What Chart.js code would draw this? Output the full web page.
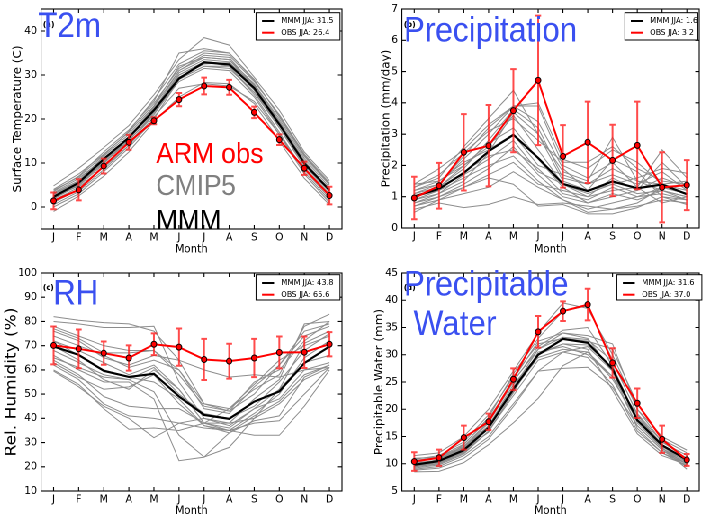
<!DOCTYPE html>
<html lang="en">
<head>
    <meta charset="UTF-8">
    <title>ARM obs vs CMIP5 annual cycle</title>
    <script src="https://cdn.jsdelivr.net/npm/chart.js@4/dist/chart.umd.min.js"></script>
</head>
<style>
    body { margin: 0; background: #fff; overflow: hidden; }
    #fig { position: absolute; left: 0; top: 0; width: 782px; height: 517px; transform: scale(0.9, 1); transform-origin: 0 0; }
    #fig canvas { position: absolute; }
</style>
<body>
<div id="fig">
    <canvas id="pa" width="391" height="258" style="left:0;top:0"></canvas>
    <canvas id="pb" width="391" height="258" style="left:391px;top:0"></canvas>
    <canvas id="pc" width="391" height="259" style="left:0;top:258px"></canvas>
    <canvas id="pd" width="391" height="259" style="left:391px;top:258px"></canvas>
</div>
<script>
    const months = ['J', 'F', 'M', 'A', 'M', 'J', 'J', 'A', 'S', 'O', 'N', 'D'];

    // (a) 2 m temperature
    const t2mTicks = [0, 10, 20, 30, 40];
    const t2mObs = [1.4, 3.9, 9.3, 14.7, 19.6, 24.4, 27.5, 27.2, 21.5, 15.3, 8.8, 2.6];
    const t2mErr = [1.9, 2.4, 1.7, 1.7, 0.8, 1.5, 1.9, 1.7, 1.3, 1.2, 1.5, 2.0];
    const t2mMmm = [2.3, 5.5, 10.9, 15.8, 22.0, 29.2, 32.9, 32.4, 27.0, 18.8, 9.9, 3.8];
    const t2mModels = [
        [4.8, 8.8, 13.5, 18.5, 25.5, 33.5, 38.5, 36.8, 29.5, 22.0, 12.5, 6.0],
        [3.5, 7.0, 12.5, 17.5, 24.0, 35.0, 36.0, 35.0, 29.0, 20.5, 11.5, 5.0],
        [2.0, 5.0, 10.5, 15.5, 22.0, 31.0, 34.5, 34.0, 27.5, 19.0, 10.0, 3.5],
        [1.0, 4.0, 9.5, 14.5, 21.0, 30.0, 33.0, 32.5, 26.5, 18.0, 9.0, 2.5],
        [0.0, 3.0, 8.0, 13.5, 20.0, 29.0, 32.0, 32.0, 25.5, 17.0, 8.0, 1.5],
        [-1.0, 2.5, 7.0, 12.5, 19.5, 25.0, 28.3, 28.0, 23.5, 15.0, 6.5, 0.5],
        [3.0, 6.0, 11.5, 16.5, 23.0, 32.0, 34.0, 33.5, 28.0, 20.0, 11.0, 4.5],
        [2.5, 5.5, 10.0, 15.0, 21.5, 30.5, 33.5, 33.0, 27.0, 19.5, 10.5, 4.0],
        [1.5, 4.5, 9.0, 14.0, 20.5, 27.0, 28.0, 27.5, 24.0, 16.5, 8.5, 2.0],
        [4.0, 7.5, 12.0, 17.0, 23.5, 31.5, 35.0, 34.5, 28.5, 21.0, 12.0, 5.5],
        [2.8, 5.8, 11.0, 16.0, 22.5, 29.5, 32.5, 32.8, 27.8, 19.5, 10.2, 4.0],
        [0.5, 3.5, 8.5, 14.0, 21.5, 28.5, 31.5, 31.0, 25.0, 16.5, 7.5, 1.0],
        [3.2, 6.5, 11.0, 15.5, 22.0, 30.0, 33.0, 32.0, 26.0, 18.5, 10.0, 4.2],
        [1.8, 5.0, 10.2, 15.2, 21.0, 29.0, 32.0, 31.5, 26.0, 18.0, 9.5, 3.0],
        [2.2, 4.8, 9.8, 15.8, 22.8, 31.0, 34.0, 33.5, 27.2, 19.2, 10.5, 3.8],
        [3.8, 6.8, 11.8, 17.2, 24.5, 32.5, 35.5, 35.0, 28.8, 20.8, 11.8, 5.2]
    ];

    // (b) precipitation
    const prTicks = [0, 1, 2, 3, 4, 5, 6, 7];
    const prObs = [0.96, 1.35, 2.42, 2.63, 3.75, 4.72, 2.29, 2.74, 2.16, 2.64, 1.30, 1.37];
    const prErr = [0.68, 0.73, 1.22, 1.3, 1.33, 2.07, 1.0, 1.3, 1.14, 1.4, 1.12, 0.8];
    const prMmm = [1.01, 1.25, 1.76, 2.45, 2.98, 2.24, 1.41, 1.18, 1.49, 1.27, 1.39, 1.08];
    const prModels = [
        [1.3, 1.6, 2.6, 3.5, 4.4, 3.0, 1.8, 1.5, 2.9, 1.5, 1.2, 1.0],
        [1.4, 1.9, 2.5, 3.3, 3.9, 4.0, 2.2, 1.9, 2.5, 2.1, 1.4, 1.2],
        [1.1, 1.4, 2.2, 3.0, 3.9, 3.9, 2.0, 1.6, 2.1, 1.3, 2.5, 1.6],
        [0.9, 1.1, 1.5, 2.4, 3.7, 3.0, 1.5, 1.2, 2.2, 1.8, 1.0, 0.9],
        [1.2, 1.5, 2.0, 2.6, 3.6, 2.5, 1.4, 1.0, 1.6, 1.2, 2.1, 1.3],
        [0.8, 1.0, 1.4, 1.9, 2.6, 1.7, 1.0, 0.8, 1.1, 0.9, 1.2, 1.0],
        [0.6, 0.8, 0.65, 0.75, 1.0, 0.75, 0.8, 0.7, 0.6, 0.7, 0.9, 0.8],
        [0.5, 0.9, 1.3, 1.6, 1.4, 0.7, 0.75, 0.45, 0.45, 0.65, 1.0, 0.75],
        [1.0, 1.2, 1.8, 2.3, 2.5, 1.9, 1.1, 0.9, 1.3, 1.0, 1.3, 1.1],
        [1.3, 1.7, 2.4, 3.1, 3.5, 2.8, 2.1, 2.1, 2.6, 1.9, 1.5, 1.4],
        [0.7, 0.9, 1.1, 1.3, 1.8, 1.3, 0.9, 0.6, 0.8, 1.0, 1.1, 0.9],
        [1.1, 1.3, 1.9, 2.8, 3.8, 3.2, 1.6, 1.4, 1.7, 1.4, 1.8, 1.2],
        [1.2, 1.4, 2.3, 3.2, 3.9, 3.4, 1.9, 1.2, 1.4, 1.6, 1.9, 1.75],
        [0.9, 1.2, 1.6, 2.0, 2.3, 1.5, 0.9, 0.5, 0.6, 0.8, 1.3, 1.1],
        [0.7, 1.0, 1.3, 1.7, 2.1, 1.4, 1.2, 1.0, 1.2, 1.3, 0.8, 1.0],
        [1.0, 1.3, 2.0, 2.7, 3.2, 2.2, 1.3, 0.8, 1.0, 1.2, 1.6, 1.3],
        [1.4, 1.5, 2.1, 2.5, 3.0, 2.0, 1.7, 1.4, 1.9, 1.5, 1.4, 1.5],
        [0.8, 1.1, 1.7, 2.2, 2.8, 1.8, 1.4, 1.1, 1.4, 1.1, 1.2, 0.9]
    ];

    // (c) relative humidity
    const rhTicks = [10, 20, 30, 40, 50, 60, 70, 80, 90, 100];
    const rhObs = [70.1, 68.7, 66.9, 64.9, 70.6, 69.4, 64.3, 63.6, 64.9, 67.2, 67.3, 70.6];
    const rhErr = [7.8, 8.0, 4.8, 5.2, 4.5, 7.7, 8.5, 7.2, 7.9, 6.6, 6.5, 5.0];
    const rhMmm = [69.7, 66.2, 59.6, 57.1, 58.4, 49.0, 41.4, 39.8, 46.9, 51.1, 62.8, 69.7];
    const rhModels = [
        [82, 80.5, 79.5, 79, 76, 64, 46, 44, 52, 58, 78, 83],
        [80, 79, 77.5, 77.5, 78, 55, 40, 38, 48, 56, 79, 80],
        [78, 74, 70, 68, 68, 60, 44, 42, 53, 62, 76, 79],
        [76, 72, 65, 62, 66, 64, 60, 57, 58, 57, 60, 61],
        [74, 70, 66, 61, 64, 60, 46, 43, 50, 62, 74, 78],
        [72, 68, 63, 58, 62, 52, 38, 36, 44, 52, 71, 76],
        [70, 64, 56, 52, 60, 52, 38, 44, 54, 64, 70, 74],
        [68, 63, 58, 56, 51, 33, 24, 28, 40, 52, 63, 66],
        [66, 60, 55, 55, 48, 22.5, 24, 34, 39, 41, 57, 62],
        [64, 58, 49, 45, 44, 44, 38, 35, 33, 33, 45, 60],
        [62, 56, 46, 41, 40, 38, 36, 35, 38, 39, 50, 61],
        [60, 54, 44, 35.5, 36, 35, 38, 38, 40, 46, 56, 61],
        [59.5, 53, 45, 40, 32, 38, 40, 37, 44, 48, 60, 63],
        [72, 66, 60, 57, 55, 48, 37, 35, 42, 50, 65, 72],
        [65, 61, 57, 56, 61, 50, 42, 40, 45, 55, 68, 75],
        [77, 73, 67, 67, 68, 58, 45, 43, 55, 60, 72, 80],
        [63, 57, 52, 53, 58, 46, 37, 34, 41, 47, 58, 62]
    ];

    // (d) precipitable water
    const pwTicks = [5, 10, 15, 20, 25, 30, 35, 40, 45];
    const pwObs = [10.4, 11.1, 14.8, 17.7, 25.5, 34.2, 38.0, 39.2, 28.5, 21.1, 14.5, 10.7];
    const pwErr = [1.7, 1.5, 2.2, 1.5, 2.0, 2.9, 1.8, 2.9, 2.7, 2.7, 2.5, 1.1];
    const pwMmm = [9.8, 10.5, 12.5, 16.6, 23.7, 30.0, 32.9, 32.2, 27.4, 18.0, 13.4, 10.7];
    const pwModels = [
        [11.5, 12.0, 15.0, 20.0, 27.0, 34.0, 39.5, 38.5, 30.0, 20.0, 14.0, 11.0],
        [10.0, 10.5, 13.5, 18.5, 26.5, 33.0, 38.0, 39.0, 29.0, 19.0, 13.5, 10.5],
        [9.0, 9.5, 11.5, 15.0, 21.0, 27.0, 27.5, 27.7, 24.0, 17.0, 12.5, 9.5],
        [8.5, 8.6, 10.2, 13.5, 17.5, 22.0, 28.0, 30.5, 26.0, 19.0, 13.0, 9.0],
        [10.5, 11.0, 13.0, 17.0, 24.0, 31.0, 34.0, 33.0, 27.0, 18.5, 13.5, 10.8],
        [9.5, 10.0, 12.0, 16.0, 23.0, 30.5, 31.5, 30.0, 26.0, 17.0, 12.5, 10.0],
        [9.8, 10.8, 13.0, 17.5, 25.0, 31.5, 34.5, 35.0, 28.0, 18.0, 13.2, 10.2],
        [8.8, 9.2, 11.0, 14.5, 20.5, 27.0, 30.5, 29.5, 24.5, 16.0, 12.0, 9.5],
        [10.8, 11.5, 14.0, 19.0, 26.0, 32.0, 33.0, 32.5, 31.0, 21.0, 14.5, 12.0],
        [9.2, 9.8, 11.8, 16.0, 22.5, 29.0, 30.5, 31.5, 27.0, 16.5, 12.0, 10.0],
        [10.2, 10.6, 12.8, 17.0, 24.5, 30.0, 32.0, 31.0, 23.5, 15.5, 11.5, 9.8],
        [11.0, 11.2, 13.2, 17.8, 25.5, 32.5, 34.0, 33.5, 32.0, 20.0, 15.0, 12.5],
        [9.6, 10.2, 12.2, 16.5, 23.5, 29.5, 31.0, 30.5, 25.5, 18.0, 12.8, 10.4],
        [10.6, 11.2, 13.6, 18.2, 25.2, 31.0, 33.2, 32.8, 28.8, 19.2, 14.0, 11.5],
        [9.4, 10.0, 12.4, 15.8, 23.2, 30.2, 32.0, 31.8, 27.5, 17.5, 12.8, 10.0]
    ];

    // the reference figure is squeezed sideways, so everything is drawn wider and scaled back
    const SX = 0.9;
    const SANS = "'DejaVu Sans', sans-serif";
    const BLUE = 'rgb(58, 80, 240)';

    function makePanel(cfg) {
        const W = 391, H = cfg.h, area = cfg.area;

        const frame = {
            id: 'frame',
            beforeDatasetDraw(chart, args) {
                if (args.index !== 0) return;
                const {ctx, scales: {x, y}} = chart;
                ctx.save();
                ctx.strokeStyle = 'rgba(255, 30, 30, 0.8)';
                ctx.lineWidth = 2;
                ctx.beginPath();
                cfg.obs.forEach((v, i) => {
                    const px = x.getPixelForValue(i);
                    const hi = y.getPixelForValue(v + cfg.err[i]);
                    const lo = y.getPixelForValue(v - cfg.err[i]);
                    ctx.moveTo(px, hi); ctx.lineTo(px, lo);
                    ctx.moveTo(px - 3.3, hi); ctx.lineTo(px + 3.3, hi);
                    ctx.moveTo(px - 3.3, lo); ctx.lineTo(px + 3.3, lo);
                });
                ctx.stroke();
                ctx.restore();
            },
            afterDraw(chart) {
                const {ctx, chartArea: ca, scales: {x, y}} = chart;
                ctx.save();
                // axes box with inward ticks
                ctx.strokeStyle = '#000';
                ctx.lineWidth = 1.1;
                ctx.strokeRect(ca.left, ca.top, ca.right - ca.left, ca.bottom - ca.top);
                ctx.beginPath();
                months.forEach((m, i) => {
                    const px = x.getPixelForTick(i);
                    ctx.moveTo(px, ca.bottom); ctx.lineTo(px, ca.bottom - 4);
                    ctx.moveTo(px, ca.top); ctx.lineTo(px, ca.top + 4);
                });
                cfg.ticks.forEach(v => {
                    const py = y.getPixelForValue(v);
                    ctx.moveTo(ca.left, py); ctx.lineTo(ca.left + 4 / SX, py);
                    ctx.moveTo(ca.right, py); ctx.lineTo(ca.right - 4 / SX, py);
                });
                ctx.stroke();

                // legend
                const lg = cfg.legend;
                const L = lg.l / SX, R = lg.r / SX;
                ctx.fillStyle = '#fff';
                ctx.fillRect(L, lg.t, R - L, lg.b - lg.t);
                ctx.lineWidth = 1;
                ctx.strokeRect(L, lg.t, R - L, lg.b - lg.t);
                ctx.font = '8.3px ' + SANS;
                ctx.textBaseline = 'middle';
                ctx.textAlign = 'left';
                [[cfg.mmmLabel, '#000', 8.3], [cfg.obsLabel, 'red', 20]].forEach(([txt, col, dy]) => {
                    ctx.strokeStyle = col;
                    ctx.lineWidth = 2;
                    ctx.beginPath();
                    ctx.moveTo(L + 6 / SX, lg.t + dy);
                    ctx.lineTo(L + 18 / SX, lg.t + dy);
                    ctx.stroke();
                    ctx.fillStyle = '#000';
                    ctx.fillText(txt, L + 25 / SX, lg.t + dy);
                });

                // panel letters and overlaid captions
                ctx.textBaseline = 'alphabetic';
                cfg.notes.forEach(n => {
                    ctx.save();
                    if (n.clip) {
                        ctx.beginPath();
                        ctx.rect(ca.left, ca.top, ca.right - ca.left, ca.bottom - ca.top);
                        ctx.clip();
                    }
                    ctx.font = n.font;
                    ctx.fillStyle = n.color;
                    ctx.fillText(n.text, n.x / SX, n.y);
                    ctx.restore();
                });
                ctx.restore();
            }
        };

        const datasets = [
            { data: cfg.obs, borderColor: 'red', borderWidth: 2, pointRadius: 3,
              pointBackgroundColor: 'red', pointBorderColor: '#000', pointBorderWidth: 1, order: 0 },
            { data: cfg.mmm, borderColor: '#000', borderWidth: 2.2, pointRadius: 0, order: 1 }
        ].concat(cfg.models.map(m => ({ data: m, borderColor: '#8c8c8c', borderWidth: 1, pointRadius: 0, order: 2 })));

        new Chart(document.getElementById(cfg.id), {
            type: 'line',
            data: { labels: months, datasets: datasets },
            options: {
                responsive: false,
                animation: false,
                devicePixelRatio: 2,
                events: [],
                layout: { padding: { left: 0, top: area.t, right: W - area.r / SX, bottom: 0 } },
                plugins: { legend: { display: false }, tooltip: { enabled: false } },
                scales: {
                    x: {
                        type: 'category', offset: true,
                        grid: { display: false, drawTicks: false }, border: { display: false },
                        ticks: { color: '#000', font: { family: SANS, size: 11 }, padding: 2, maxRotation: 0, autoSkip: false },
                        title: { display: true, text: 'Month', color: '#000',
                                 font: { family: SANS, size: 11.5, lineHeight: 1 }, padding: { top: 0, bottom: cfg.monthPad } },
                        afterFit: s => { s.height = H - area.b; s.paddingLeft = 0; s.paddingRight = 0; }
                    },
                    y: {
                        min: cfg.min, max: cfg.max,
                        grid: { display: false, drawTicks: false }, border: { display: false },
                        ticks: { color: '#000', font: { family: SANS, size: 11 }, padding: 4.4 },
                        title: { display: true, text: cfg.ylabel, color: '#000',
                                 font: { family: SANS, size: cfg.ySize, lineHeight: 1 }, padding: { top: cfg.yPad, bottom: 0 } },
                        afterBuildTicks: s => { s.ticks = cfg.ticks.map(v => ({ value: v })); },
                        afterFit: s => { s.width = area.l / SX; s.paddingTop = 0; s.paddingBottom = 0; }
                    }
                }
            },
            plugins: [frame]
        });
    }

    makePanel({
        id: 'pa', h: 258, area: { l: 41, t: 9, r: 342, b: 229 },
        min: -5, max: 45, ticks: t2mTicks, ylabel: 'Surface Temperature (C)', ySize: 12, yPad: 13.7, monthPad: 2.5,
        obs: t2mObs, err: t2mErr, mmm: t2mMmm, models: t2mModels,
        mmmLabel: 'MMM JJA: 31.5', obsLabel: 'OBS JJA: 26.4',
        legend: { l: 256, r: 340, t: 12.7, b: 40 },
        notes: [
            { text: '(a)', x: 43, y: 27, font: 'bold 8px ' + SANS, color: '#000' },
            { text: 'ARM obs', x: 156, y: 163, font: "29px 'Liberation Sans', Arial", color: 'red', clip: true },
            { text: 'CMIP5', x: 156, y: 195, font: "29px 'Liberation Sans', Arial", color: '#808080', clip: true },
            { text: 'MMM', x: 156, y: 230, font: "29px 'Liberation Sans', Arial", color: '#000', clip: true },
            { text: 'T2m', x: 38, y: 37, font: "35px 'Liberation Sans', Arial", color: BLUE }
        ]
    });

    makePanel({
        id: 'pb', h: 258, area: { l: 50, t: 9, r: 350.5, b: 228 },
        min: 0, max: 7, ticks: prTicks, ylabel: 'Precipitation (mm/day)', ySize: 12, yPad: 32.6, monthPad: 2.5,
        obs: prObs, err: prErr, mmm: prMmm, models: prModels,
        mmmLabel: 'MMM JJA: 1.6', obsLabel: 'OBS JJA: 3.2',
        legend: { l: 273, r: 346, t: 12.7, b: 40 },
        notes: [
            { text: '(b)', x: 52, y: 27, font: 'bold 8px ' + SANS, color: '#000' },
            { text: 'Precipitation', x: 52, y: 41.7, font: "35px 'Liberation Sans', Arial", color: BLUE }
        ]
    });

    makePanel({
        id: 'pc', h: 259, area: { l: 41, t: 15, r: 342, b: 233 },
        min: 10, max: 100, ticks: rhTicks, ylabel: 'Rel. Humidity (%)', ySize: 17, yPad: 4.8, monthPad: 0,
        obs: rhObs, err: rhErr, mmm: rhMmm, models: rhModels,
        mmmLabel: 'MMM JJA: 43.8', obsLabel: 'OBS JJA: 65.6',
        legend: { l: 256, r: 340, t: 16.7, b: 42 },
        notes: [
            { text: '(c)', x: 43, y: 32, font: 'bold 8px ' + SANS, color: '#000' },
            { text: 'RH', x: 53, y: 46.7, font: "35px 'Liberation Sans', Arial", color: BLUE }
        ]
    });

    makePanel({
        id: 'pd', h: 259, area: { l: 50, t: 15, r: 350.5, b: 233 },
        min: 5, max: 45, ticks: pwTicks, ylabel: 'Precipitable Water (mm)', ySize: 12, yPad: 24.8, monthPad: 0,
        obs: pwObs, err: pwErr, mmm: pwMmm, models: pwModels,
        mmmLabel: 'MMM JJA: 31.6', obsLabel: 'OBS JJA: 37.0',
        legend: { l: 265, r: 350, t: 16.7, b: 42 },
        notes: [
            { text: '(d)', x: 52, y: 32, font: 'bold 8px ' + SANS, color: '#000' },
            { text: 'Precipitable', x: 52, y: 37.3, font: "35px 'Liberation Sans', Arial", color: BLUE },
            { text: 'Water', x: 61.7, y: 77, font: "35px 'Liberation Sans', Arial", color: BLUE }
        ]
    });
</script>
</body>
</html>
